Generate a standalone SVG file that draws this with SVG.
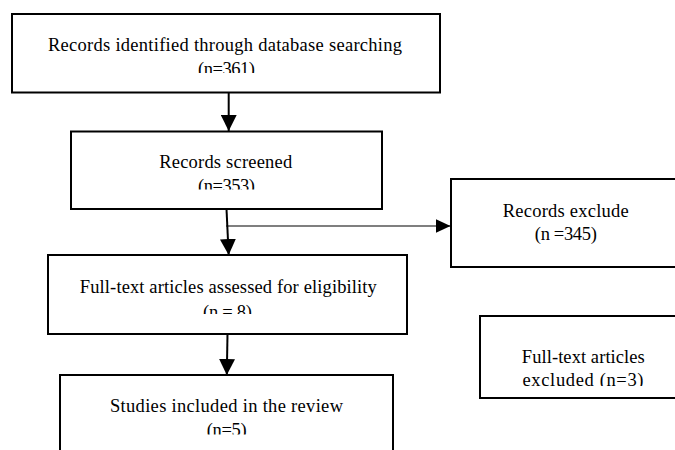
<svg xmlns="http://www.w3.org/2000/svg" width="675" height="450" viewBox="0 0 675 450">
<style>
.box{fill:#fff;stroke:#000;stroke-width:2}
.t{font-family:"Liberation Serif","Times New Roman",serif;font-size:18.5px;fill:#000;text-anchor:middle}
.c{stroke:#000;stroke-width:2;fill:none}
.thin{stroke:#000;stroke-width:1.2;fill:none}
</style>
<defs>
<marker id="ah" viewBox="0 0 16 16" refX="16" refY="8" markerWidth="16" markerHeight="16" markerUnits="userSpaceOnUse" orient="auto">
<path d="M0,0 L16,8 L0,16 z" fill="#000"/>
</marker>
<marker id="ahs" viewBox="0 0 15 14" refX="15" refY="7" markerWidth="15" markerHeight="14" markerUnits="userSpaceOnUse" orient="auto">
<path d="M0,0 L15,7 L0,14 z" fill="#000"/>
</marker>
<clipPath id="c1"><rect x="12" y="14" width="428" height="59"/></clipPath>
<clipPath id="c2"><rect x="71" y="131" width="311" height="58.5"/></clipPath>
<clipPath id="c4"><rect x="48" y="255" width="359" height="59"/></clipPath>
<clipPath id="c5"><rect x="60" y="375" width="333" height="59.5"/></clipPath>
<clipPath id="c6"><rect x="480" y="316" width="200" height="70"/></clipPath>
</defs>
<g id="connectors">
<line class="c" x1="228.7" y1="93" x2="228.7" y2="131" marker-end="url(#ah)"/>
<line class="c" x1="226.5" y1="209" x2="228.7" y2="255" marker-end="url(#ah)"/>
<line class="thin" x1="226" y1="226" x2="450.5" y2="226" marker-end="url(#ahs)"/>
<line class="c" x1="227.5" y1="334" x2="226.8" y2="375" marker-end="url(#ah)"/>
</g>
<g id="n1">
<rect class="box" x="12" y="14" width="428" height="78.5"/>
<g clip-path="url(#c1)">
<text class="t" x="225" y="51" textLength="354">Records identified through database searching</text>
<text class="t" x="226.5" y="75" textLength="57">(n=361)</text>
</g>
</g>
<g id="n2">
<rect class="box" x="71" y="131.5" width="311" height="77.5"/>
<g clip-path="url(#c2)">
<text class="t" x="225.7" y="168.3" textLength="133">Records screened</text>
<text class="t" x="226.5" y="192.3" textLength="57">(n=353)</text>
</g>
</g>
<g id="n3">
<rect class="box" x="451" y="179" width="240" height="88"/>
<text class="t" x="565.7" y="216.7" textLength="126">Records exclude</text>
<text class="t" x="565.8" y="240.3" textLength="62">(n =345)</text>
</g>
<g id="n4">
<rect class="box" x="48" y="255" width="359" height="79"/>
<g clip-path="url(#c4)">
<text class="t" x="228.3" y="293.3" textLength="297">Full-text articles assessed for eligibility</text>
<text class="t" x="227.5" y="317.5" textLength="49">(n = 8)</text>
</g>
</g>
<g id="n5">
<rect class="box" x="60" y="375" width="333" height="90"/>
<g clip-path="url(#c5)">
<text class="t" x="226.5" y="411.7" textLength="233">Studies included in the review</text>
<text class="t" x="226.7" y="435.7" textLength="40">(n=5)</text>
</g>
</g>
<g id="n6">
<rect class="box" x="480" y="316" width="240" height="82"/>
<g clip-path="url(#c6)">
<text class="t" x="583.3" y="363.3" textLength="123">Full-text articles</text>
<text class="t" x="583" y="386" textLength="121">excluded (n=3)</text>
</g>
</g>
</svg>
